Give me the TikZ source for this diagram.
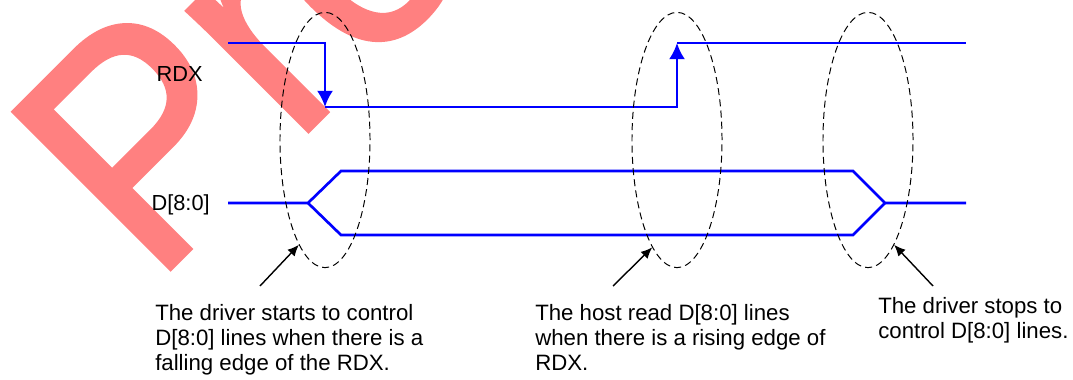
\documentclass[tikz,border=0pt]{standalone}
\usepackage{fontspec}
\setmainfont{Liberation Sans}
\newfontfamily\stampfont[FakeBold=1.5]{Liberation Sans}
\usetikzlibrary{arrows.meta,shapes.geometric}

\definecolor{stamp}{RGB}{255,128,128}

\begin{document}
\begin{tikzpicture}[x=0.025cm,y=-0.025cm,
    sig/.style={blue,line width=1.9pt},
    ring/.style={draw,ellipse,dash pattern=on 5pt off 3pt,line width=0.7pt,
        minimum width=2.25cm,minimum height=6.38cm,inner sep=0pt},
    callout/.style={line width=1pt,-{Latex[length=8pt,width=7pt]}},
    note/.style={font=\fontsize{15.8}{17.8}\selectfont,align=left,anchor=north west,inner sep=0pt},
    label/.style={font=\fontsize{15.5}{18}\selectfont,anchor=base east,inner sep=0pt}]
    \useasboundingbox (0,0) rectangle (1073,380);
    \begin{scope}
        \clip (0,0) rectangle (1073,380);
        \node[stamp,rotate=45,yscale=1.08,anchor=base west,inner sep=0pt,font=\stampfont\fontsize{212}{212}\selectfont]
            (stampword) at (153,286) {Preliminary};
    \end{scope}

    \node[label] (rdx) at (203,82) {RDX};
    \node[label] (data) at (210,210) {D[8:0]};

    \draw[sig,-{Latex[length=11.5pt,width=11.5pt]}] (228,43) -| (325,107);
    \draw[sig,-{Latex[length=11.5pt,width=11.5pt]}] (325,107) -| (677,43);
    \draw[sig] (677,43) -- (966,43);

    \draw[sig] (228,203) -- (308,203) -- (341,171) -- (853,171) -- (885,203) -- (966,203);
    \draw[sig] (308,203) -- (341,235) -- (853,235) -- (885,203);

    \foreach \x/\n in {325/start,677/read,868/stop}
        \node[ring] (\n) at (\x,140) {};

    \node[note] (startnote) at (155,304) {The driver starts to control\\D[8:0] lines when there is a\\falling edge of the RDX.};
    \node[note] (readnote) at (535,304) {The host read D[8:0] lines\\when there is a rising edge of\\RDX.};
    \node[note] (stopnote) at (878,297) {The driver stops to\\control D[8:0] lines.};

    \coordinate (startfoot) at (260,286);
    \coordinate (readfoot) at (613,286);
    \coordinate (stopfoot) at (933,286);
    \draw[callout] (startfoot) -- (start.256);
    \draw[callout] (readfoot) -- (read.257);
    \draw[callout] (stopfoot) -- (stop.284);
\end{tikzpicture}
\end{document}
